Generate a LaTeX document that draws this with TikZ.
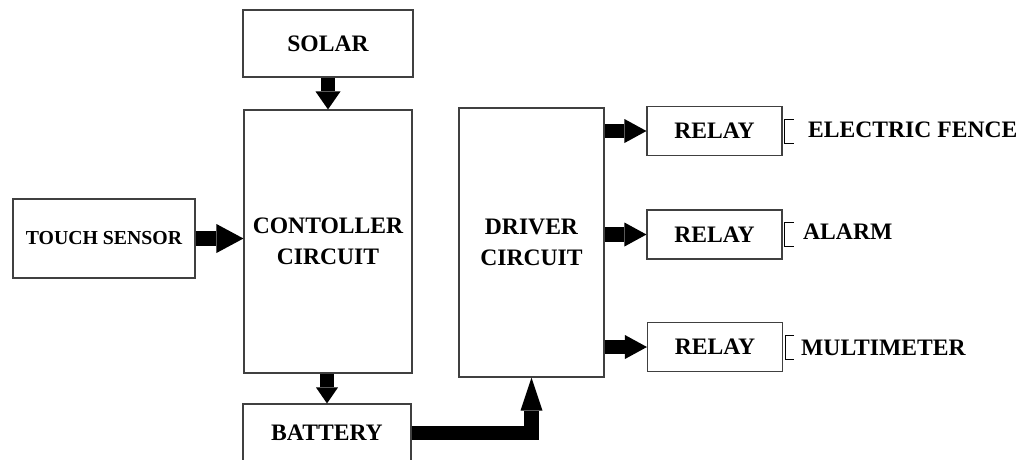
\documentclass[tikz,border=0pt]{standalone}
\usepackage{fontspec}
\setmainfont{Liberation Serif}
\usetikzlibrary{arrows.meta}

\begin{document}
\begin{tikzpicture}[x=1pt, y=-1pt,
    blk/.style={draw=black!75, line width=1.1pt, inner sep=0pt, align=center,
      font=\bfseries\fontsize{23.6}{31}\selectfont},
    fat/.style 2 args={line width=14.5pt, -{Triangle[length=#1, width=#2, line width=0pt]}},
    tag/.style={anchor=west, inner sep=0pt, font=\bfseries\fontsize{23.6}{27}\selectfont}]
    % page size
    \useasboundingbox (0,0) rectangle (1021,459);
    \clip (0,0) rectangle (1021,459);

    % blocks
    \node[blk, minimum width=170pt, minimum height=67pt] (solar) at (328,43.5) {SOLAR};
    \node[blk, minimum width=168pt, minimum height=263pt] (ctrl) at (328,241.5) {CONTOLLER\\CIRCUIT};
    \node[blk, minimum width=182pt, minimum height=79pt, font=\bfseries\fontsize{19.8}{22}\selectfont] (touch) at (104,238.5) {TOUCH SENSOR};
    \node[blk, minimum width=168pt, minimum height=58pt] (batt) at (327,433) {BATTERY};
    \node[blk, minimum width=145pt, minimum height=269pt] (drv) at (531.5,242.5) {DRIVER\\CIRCUIT};

    % relays
    \node[blk, minimum width=135pt, minimum height=49pt] (relayA) at (714.5,131) {RELAY};
    \node[blk, minimum width=135pt, minimum height=49pt] (relayB) at (714.5,234.5) {RELAY};
    \node[blk, minimum width=135pt, minimum height=49pt] (relayC) at (715,347) {RELAY};

    % contacts
    \draw[line width=1pt] ([xshift=11pt, yshift=12pt]relayA.east) -- ++(-9,0) -- ++(0,24) -- ++(9,0);
    \draw[line width=1pt] ([xshift=11pt, yshift=12pt]relayB.east) -- ++(-9,0) -- ++(0,24) -- ++(9,0);
    \draw[line width=1pt] ([xshift=11pt, yshift=12pt]relayC.east) -- ++(-9,0) -- ++(0,24) -- ++(9,0);

    % loads
    \node[tag] (fence) at (808,130) {ELECTRIC FENCE};
    \node[tag] (alarm) at (803,232) {ALARM};
    \node[tag] (meter) at (801,348) {MULTIMETER};

    % fat arrows
    \draw[fat={18pt}{25pt}] (solar.south) -- (ctrl.north);
    \draw[fat={27pt}{29pt}] (touch.east) -- (touch.east -| ctrl.west);
    \draw[fat={16pt}{22pt}] (ctrl.south -| batt.north) -- (batt.north);
    \draw[fat={33pt}{22pt}] (batt.east) -| (drv.south);
    \draw[fat={22pt}{24pt}] (drv.east |- relayA.west) -- (relayA.west);
    \draw[fat={22pt}{24pt}] (drv.east |- relayB.west) -- (relayB.west);
    \draw[fat={22pt}{24pt}] (drv.east |- relayC.west) -- (relayC.west);
  \end{tikzpicture}
\end{document}
